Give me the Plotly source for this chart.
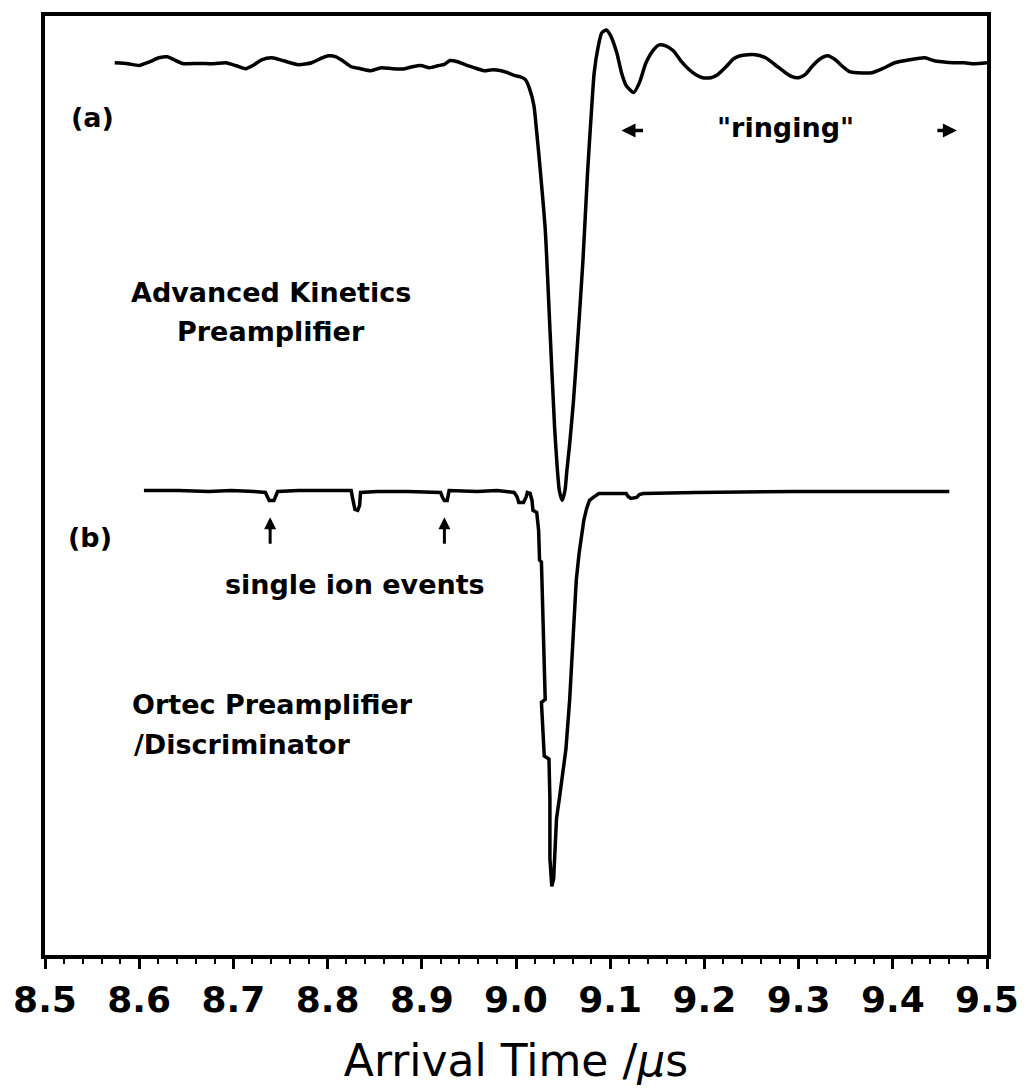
import plotly.graph_objects as go

# (a) Advanced Kinetics preamplifier: arrival time (us) and signal (arb. units, baseline = 0)
time_a = [8.574, 8.588, 8.600, 8.611, 8.621, 8.630, 8.637, 8.646, 8.664, 8.679,
          8.692, 8.703, 8.713, 8.722, 8.730, 8.741, 8.753, 8.769, 8.783, 8.792,
          8.801, 8.809, 8.816, 8.825, 8.835, 8.846, 8.857, 8.869, 8.882, 8.890,
          8.899, 8.908, 8.917, 8.924, 8.930, 8.938, 8.948, 8.959, 8.966, 8.975,
          8.983, 8.991, 8.998, 9.004, 9.010, 9.014, 9.019, 9.022, 9.025, 9.031,
          9.036, 9.041, 9.044, 9.046, 9.049, 9.052, 9.054, 9.057, 9.061, 9.064,
          9.071, 9.076, 9.080, 9.083, 9.087, 9.091, 9.096, 9.100, 9.107, 9.112,
          9.117, 9.125, 9.131, 9.138, 9.146, 9.152, 9.159, 9.167, 9.175, 9.184,
          9.191, 9.198, 9.207, 9.214, 9.223, 9.231, 9.238, 9.246, 9.254, 9.265,
          9.275, 9.286, 9.293, 9.300, 9.307, 9.315, 9.323, 9.331, 9.339, 9.347,
          9.354, 9.362, 9.378, 9.389, 9.402, 9.418, 9.434, 9.444, 9.452, 9.465,
          9.476, 9.486, 9.500]
signal_a = [0.00, -0.01, -0.027, 0.01, 0.05, 0.06, 0.03, -0.007, -0.007, -0.01,
            0.00, -0.03, -0.06, -0.02, 0.03, 0.05, 0.02, -0.02, 0.00, 0.04,
            0.07, 0.06, 0.02, -0.04, -0.06, -0.08, -0.05, -0.06, -0.06, -0.04,
            -0.027, -0.05, -0.03, -0.017, 0.023, 0.01, -0.027, -0.06, -0.08, -0.07,
            -0.077, -0.10, -0.127, -0.14, -0.17, -0.25, -0.43, -0.70, -1.00, -1.67,
            -2.67, -3.67, -4.10, -4.30, -4.40, -4.30, -4.10, -3.83, -3.40, -3.00,
            -2.00, -1.10, -0.50, -0.10, 0.15, 0.30, 0.33, 0.28, 0.10, -0.10,
            -0.23, -0.30, -0.20, 0.00, 0.13, 0.18, 0.17, 0.12, 0.02, -0.07,
            -0.12, -0.15, -0.15, -0.12, -0.04, 0.04, 0.07, 0.08, 0.08, 0.05,
            -0.02, -0.10, -0.14, -0.15, -0.12, -0.03, 0.04, 0.07, 0.03, -0.04,
            -0.09, -0.10, -0.10, -0.06, 0.00, 0.03, 0.05, 0.02, 0.01, 0.00,
            0.00, -0.01, 0.00]

# (b) Ortec preamplifier / discriminator
time_b = [8.605, 8.642, 8.674, 8.698, 8.722, 8.734, 8.736, 8.738, 8.743, 8.745,
          8.747, 8.769, 8.801, 8.825, 8.827, 8.829, 8.832, 8.834, 8.835, 8.853,
          8.885, 8.920, 8.922, 8.924, 8.927, 8.928, 8.929, 8.959, 8.980, 8.998,
          9.001, 9.003, 9.008, 9.011, 9.012, 9.015, 9.017, 9.018, 9.022, 9.024,
          9.025, 9.027, 9.030, 9.031, 9.027, 9.030, 9.035, 9.036, 9.036, 9.037,
          9.038, 9.040, 9.041, 9.043, 9.046, 9.049, 9.053, 9.057, 9.061, 9.064,
          9.067, 9.070, 9.072, 9.075, 9.078, 9.082, 9.088, 9.101, 9.117, 9.119,
          9.122, 9.128, 9.131, 9.135, 9.191, 9.296, 9.402, 9.460]
signal_b = [0.00, 0.00, -0.01, 0.00, -0.01, -0.02, -0.06, -0.10, -0.10, -0.06,
            -0.01, 0.00, 0.00, 0.00, -0.10, -0.19, -0.20, -0.15, -0.02, -0.01,
            -0.01, -0.02, -0.07, -0.10, -0.10, -0.06, 0.00, -0.01, 0.00, -0.02,
            -0.06, -0.12, -0.12, -0.06, -0.02, -0.03, -0.10, -0.20, -0.22, -0.40,
            -0.70, -0.72, -1.57, -2.10, -2.13, -2.67, -2.70, -3.10, -3.70, -3.90,
            -3.98, -3.90, -3.70, -3.30, -3.10, -2.90, -2.60, -2.10, -1.40, -0.90,
            -0.63, -0.40, -0.30, -0.18, -0.10, -0.07, -0.03, -0.03, -0.03, -0.06,
            -0.08, -0.07, -0.04, -0.03, -0.02, -0.01, -0.01, -0.01]

assert len(time_a) == len(signal_a)
assert len(time_b) == len(signal_b)

# single ion events marked with arrows on trace (b)
ion_event_times = [8.739, 8.924]

# vertical offsets that stack the two traces
offset_a = 8.97
offset_b = 4.67

x_ticks = [8.5, 8.6, 8.7, 8.8, 8.9, 9.0, 9.1, 9.2, 9.3, 9.4, 9.5]

FONT = "DejaVu Sans"
INK = "black"

fig = go.Figure()
fig.add_trace(go.Scatter(x=time_a, y=[s + offset_a for s in signal_a], mode="lines",
                         line=dict(color=INK, width=3.5, shape="spline", smoothing=0.6),
                         showlegend=False))
fig.add_trace(go.Scatter(x=time_b, y=[s + offset_b for s in signal_b], mode="lines",
                         line=dict(color=INK, width=3.5), showlegend=False))

txt = dict(family=FONT, size=27, color=INK, weight="bold")
annotations = [
    dict(x=8.526, y=8.42, text="(a)", xanchor="left"),
    dict(x=8.522, y=4.20, text="(b)", xanchor="left"),
    dict(x=9.286, y=8.32, text="\"ringing\""),
    dict(x=8.829, y=3.72, text="single ion events"),
    dict(x=8.740, y=6.66, text="Advanced Kinetics"),
    dict(x=8.740, y=6.27, text="Preamplifier"),
    dict(x=8.590, y=2.52, text="Ortec Preamplifier", xanchor="left"),
    dict(x=8.592, y=2.12, text="/Discriminator", xanchor="left"),
]
for a in annotations:
    fig.add_annotation(xref="x", yref="y", showarrow=False, font=txt, **a)

# short arrows bracketing the ringing region
for x_head, ax in [(9.112, 23), (9.468, -21)]:
    fig.add_annotation(x=x_head, y=8.29, xref="x", yref="y", text="", showarrow=True,
                       ax=ax, ay=0, arrowhead=2, arrowsize=0.8, arrowwidth=3.5,
                       arrowcolor=INK, standoff=0)

# arrows pointing at the single ion events
for t in ion_event_times:
    fig.add_annotation(x=t, y=4.40, xref="x", yref="y", text="", showarrow=True,
                       ax=0, ay=28, arrowhead=2, arrowsize=0.8, arrowwidth=3,
                       arrowcolor=INK, standoff=0)

fig.update_xaxes(range=[8.5, 9.5], tickvals=x_ticks, tickformat=".1f",
                 ticks="outside", ticklen=10, tickwidth=2.5, tickcolor=INK,
                 minor=dict(dtick=0.02, ticks="outside", ticklen=5, tickwidth=2, tickcolor=INK),
                 showline=True, linewidth=3.5, linecolor=INK, mirror=True,
                 showgrid=False, zeroline=False,
                 tickfont=dict(family=FONT, size=36, color=INK, weight="bold"),
                 title=dict(text="Arrival Time /<i>μ</i>s",
                            font=dict(family=FONT, size=44, color=INK), standoff=27))
fig.update_yaxes(range=[0, 9.44], showticklabels=False, ticks="",
                 showline=True, linewidth=3.5, linecolor=INK, mirror=True,
                 showgrid=False, zeroline=False)

fig.update_layout(width=1031, height=1090, autosize=False,
                  margin=dict(l=45, r=38, t=13, b=133),
                  plot_bgcolor="white", paper_bgcolor="white")

fig.write_html("out.html")
